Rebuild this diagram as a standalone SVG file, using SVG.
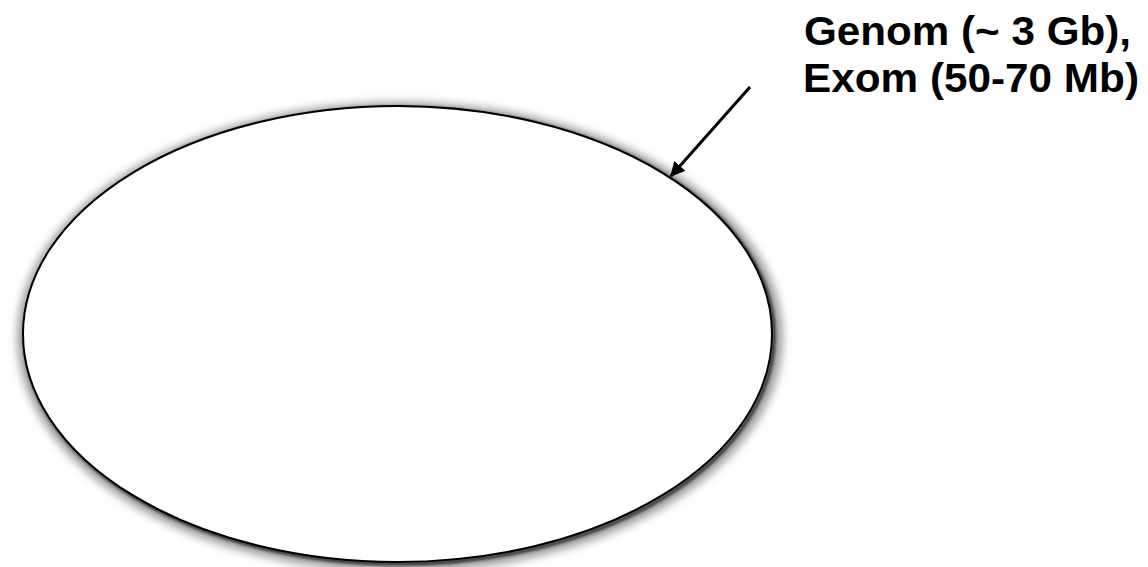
<svg xmlns="http://www.w3.org/2000/svg" width="1148" height="567" viewBox="0 0 1148 567">
<defs>
<style>
.lbl{font-family:"Liberation Sans",Arial,sans-serif;font-weight:bold;font-size:40px;fill:#000}
</style>
<filter id="glow" x="-10%" y="-10%" width="120%" height="125%">
<feGaussianBlur stdDeviation="4.5"/>
</filter>
<filter id="soft" x="-5%" y="-5%" width="110%" height="115%">
<feGaussianBlur stdDeviation="1.5"/>
</filter>
<marker id="ah" viewBox="0 0 10 10" refX="9" refY="5" markerWidth="5" markerHeight="5" orient="auto" markerUnits="strokeWidth">
<path d="M0,0 L10,5 L0,10 z" fill="#000"/>
</marker>
</defs>
<rect width="1148" height="567" fill="#fff"/>
<g id="ellipse-node">
<ellipse cx="400" cy="337" rx="383" ry="235" fill="#a0a0a0" filter="url(#glow)"/>
<ellipse cx="399.5" cy="336" rx="374.5" ry="228" fill="none" stroke="#222" stroke-width="3" filter="url(#soft)"/>
<ellipse cx="397.5" cy="334" rx="374.5" ry="228" fill="#fff" stroke="#000" stroke-width="2"/>
</g>
<g id="label">
<text class="lbl" x="804" y="45" textLength="327" lengthAdjust="spacingAndGlyphs">Genom (~ 3 Gb),</text>
<text class="lbl" x="803" y="92" textLength="336" lengthAdjust="spacingAndGlyphs">Exom (50-70 Mb)</text>
</g>
<g id="connectors">
<line x1="750" y1="87" x2="671" y2="176" stroke="#000" stroke-width="3" marker-end="url(#ah)"/>
</g>
</svg>
